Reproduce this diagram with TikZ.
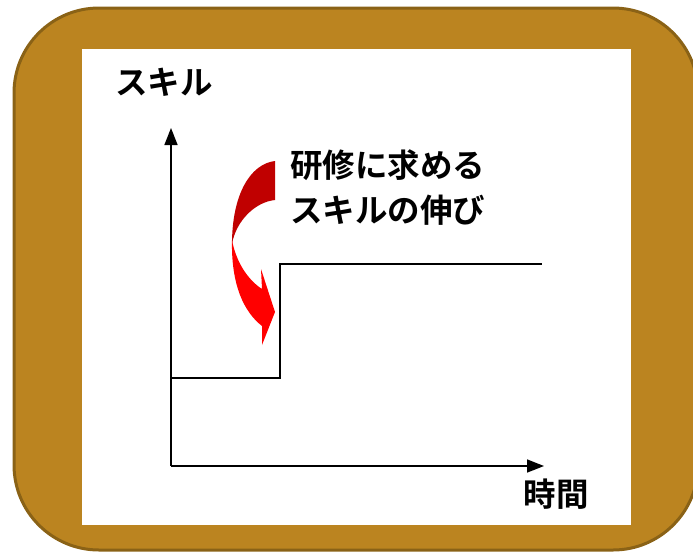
\documentclass[tikz,border=0pt]{standalone}
\usepackage{fontspec}
\newfontfamily\jpfont{Noto Sans CJK JP Bold}
\usetikzlibrary{arrows.meta}
\definecolor{frameFill}{HTML}{BB8420}
\definecolor{frameLine}{HTML}{8A6216}
\definecolor{darkRed}{HTML}{C00000}
\definecolor{brightRed}{HTML}{FF0000}
\tikzset{
  axis/.style={line width=1.6pt,-{Triangle[length=17pt,width=13pt]}},
  stepline/.style={line width=1.8pt},
  label/.style={font=\jpfont\fontsize{32.5}{45}\selectfont, inner sep=0pt},
}
\begin{document}
\begin{tikzpicture}[x=1pt,y=-1pt]
\useasboundingbox (0,0) rectangle (693,552);
\begin{scope}
\clip (0,0) rectangle (693,552);
\draw[line width=3pt, draw=frameLine, fill=frameFill, rounded corners=85pt] (14,8) rectangle (698,550);
\end{scope}
\fill[white] (82,49) rectangle (631,525);
% axes
\coordinate (o) at (171,466);
\coordinate (ytip) at (171,128);
\coordinate (xtip) at (544,466);
\draw[axis] (o) -- (ytip);
\draw[axis] (o) -- (xtip);
% step line
\coordinate (s0) at (171,378);
\coordinate (s1) at (280,378);
\coordinate (s2) at (280,264);
\coordinate (s3) at (542,264);
\draw[stepline] (s0) -- (s1) -- (s2) -- (s3);
% curved arrow
\fill[darkRed] (275,161) .. controls (250,164) and (232,195) .. (232,244)
  .. controls (236,221) and (255,202) .. (275,200) -- cycle;
\fill[brightRed] (232,240) .. controls (236,262) and (248,280) .. (262,289)
  -- (261,269) -- (275,312) -- (262,345) -- (262,326)
  .. controls (244,312) and (231,285) .. (232,240) -- cycle;
% texts
\node[label] (ylab) at (164,82) {スキル};
\node[label, align=left, anchor=west] (note) at (290,188) {研修に求める\\スキルの伸び};
\node[label] (xlab) at (556,494) {時間};
\end{tikzpicture}
\end{document}
